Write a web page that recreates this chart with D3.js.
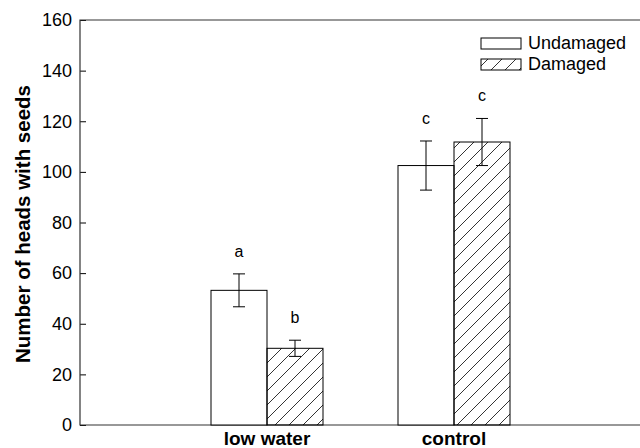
<!DOCTYPE html>
<html>
<head>
<meta charset="utf-8">
<script src="https://cdn.jsdelivr.net/npm/d3@7"></script>
<style>
  body { margin: 0; background: #fff; }
  text { font-family: "Liberation Sans", Arial, sans-serif; fill: #000; }
</style>
</head>
<body>
<script>
// dati
var groups = ["low water", "control"];
var series = ["Undamaged", "Damaged"];
var means = [[53.2, 30.3], [102.5, 111.8]];
var errs = [[6.5, 3.2], [9.7, 9.3]];
var letters = [["a", "b"], ["c", "c"]];
var yTicks = [0, 20, 40, 60, 80, 100, 120, 140, 160];

var width = 640, height = 448;
var margin = {top: 20, right: 0, bottom: 23, left: 80};

var svg = d3.select("body").append("svg")
    .attr("width", width)
    .attr("height", height);

// pattern a righe diagonali
var defs = svg.append("defs");
var pat = defs.append("pattern")
    .attr("id", "hatch")
    .attr("patternUnits", "userSpaceOnUse")
    .attr("width", 14).attr("height", 14);
pat.append("path")
    .attr("d", "M0,14 L14,0 M-3.5,3.5 L3.5,-3.5 M10.5,17.5 L17.5,10.5")
    .attr("stroke", "#000").attr("stroke-width", 0.8);

var y = d3.scaleLinear().domain([0, 160]).range([height - margin.bottom, margin.top]);
// posizione dei gruppi: 1 e 2 su un asse 0..3
var x = d3.scaleLinear().domain([0, 3]).range([margin.left, 641]);
var barW = 56;

// asse y con tacche interne
var yAxis = svg.append("g")
    .attr("transform", "translate(" + margin.left + ",0)")
    .call(d3.axisLeft(y).tickValues(yTicks).tickSize(-6).tickPadding(8));
yAxis.select(".domain").remove();
yAxis.selectAll("text").style("font-size", "18px");
yAxis.selectAll("line").attr("stroke", "#000");

// bordo superiore, sinistro e inferiore
svg.append("path")
    .attr("d", "M" + width + "," + y(160) + " H" + margin.left + " V" + y(0) + " H" + width)
    .attr("fill", "none").attr("stroke", "#333").attr("stroke-width", 1.2);

// barre
for (let g = 0; g < groups.length; g++) {
    let cx = x(g + 1);
    for (let s = 0; s < series.length; s++) {
        let bx = cx + (s - 1) * barW;
        svg.append("rect")
            .attr("x", bx).attr("y", y(means[g][s]))
            .attr("width", barW).attr("height", y(0) - y(means[g][s]))
            .attr("fill", s == 0 ? "#fff" : "url(#hatch)")
            .attr("stroke", "#000").attr("stroke-width", 1);

        // barre d'errore
        let mx = bx + barW / 2;
        let hi = y(means[g][s] + errs[g][s]), lo = y(means[g][s] - errs[g][s]);
        svg.append("path")
            .attr("d", "M" + (mx - 6) + "," + hi + " H" + (mx + 6) +
                " M" + mx + "," + hi + " V" + lo +
                " M" + (mx - 6) + "," + lo + " H" + (mx + 6))
            .attr("stroke", "#000").attr("stroke-width", 1).attr("fill", "none");

        svg.append("text")
            .attr("x", mx).attr("y", hi - 17)
            .attr("text-anchor", "middle")
            .style("font-size", "16px")
            .text(letters[g][s]);
    }
    svg.append("text")
        .attr("x", cx).attr("y", 445)
        .attr("text-anchor", "middle")
        .style("font-size", "19px").style("font-weight", "bold")
        .text(groups[g]);
}

// etichetta asse y
svg.append("text")
    .attr("transform", "translate(30," + 224 + ") rotate(-90)")
    .attr("text-anchor", "middle")
    .style("font-size", "20.5px").style("font-weight", "bold")
    .text("Number of heads with seeds");

// legenda
var legend = svg.append("g").attr("transform", "translate(481,38)");
series.forEach(function (d, i) {
    legend.append("rect")
        .attr("x", 0).attr("y", i * 21)
        .attr("width", 40).attr("height", 11)
        .attr("fill", i == 0 ? "#fff" : "url(#hatch)")
        .attr("stroke", "#000");
    legend.append("text")
        .attr("x", 47).attr("y", i * 21 + 11)
        .style("font-size", "18px")
        .text(d);
});
</script>
</body>
</html>
